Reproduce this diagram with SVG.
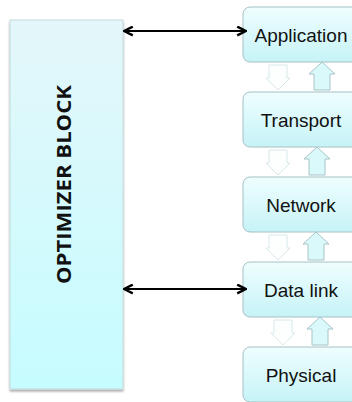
<svg xmlns="http://www.w3.org/2000/svg" width="352" height="402" viewBox="0 0 352 402">
<style>
.layer{fill:url(#gLayer);stroke:#a6c0c4;stroke-width:1}
.ltxt{font-family:"Liberation Sans",Arial,sans-serif;font-size:19px;fill:#111;text-anchor:middle}
.conn{stroke:#000;stroke-width:2;fill:none;marker-start:url(#ah);marker-end:url(#ah)}
.down{fill:#fdffff;stroke:#d8e8ea;stroke-width:1}
.up{fill:#daf9fb;stroke:#a8c4c8;stroke-width:1}
</style>
<defs>
<linearGradient id="gLayer" x1="0" y1="0" x2="0" y2="1">
<stop offset="0" stop-color="#effeff"/>
<stop offset="1" stop-color="#c6f3f7"/>
</linearGradient>
<linearGradient id="gOpt" x1="0" y1="0" x2="0" y2="1">
<stop offset="0" stop-color="#e4f7fa"/>
<stop offset="1" stop-color="#c6fcff"/>
</linearGradient>
<filter id="sh" x="-10%" y="-10%" width="120%" height="120%">
<feGaussianBlur in="SourceAlpha" stdDeviation="1"/>
<feOffset dx="0" dy="2" result="b"/>
<feComponentTransfer><feFuncA type="linear" slope="0.35"/></feComponentTransfer>
<feMerge><feMergeNode/><feMergeNode in="SourceGraphic"/></feMerge>
</filter>
<marker id="ah" viewBox="0 0 10 10" refX="9" refY="5" markerWidth="5.5" markerHeight="5.5" orient="auto-start-reverse" markerUnits="strokeWidth">
<path d="M1,1 L9,5 L1,9" fill="none" stroke="#000" stroke-width="2.2"/>
</marker>
<path id="dArrow" d="M-9,0 H9 V13 H12 L0,25 L-12,13 H-9 Z"/>
<path id="uArrow" d="M0,0 L13,12 H8 V28 H-8 V12 H-13 Z"/>
</defs>
<rect width="352" height="402" fill="#fff"/>

<g id="optimizer">
<rect x="10" y="20" width="113" height="369" fill="url(#gOpt)" stroke="#c3dbde" stroke-width="1" filter="url(#sh)"/>
<text transform="translate(71,184.5) rotate(-90)" font-family="'Open Sans','DejaVu Sans',sans-serif" font-weight="700" font-size="19" fill="#111" text-anchor="middle" textLength="199" lengthAdjust="spacingAndGlyphs">OPTIMIZER BLOCK</text>
</g>

<g id="application"><rect class="layer" x="243" y="7" width="116" height="55" rx="7"/><text class="ltxt" x="301" y="41.5">Application</text></g>
<g id="transport"><rect class="layer" x="243" y="92" width="116" height="55" rx="7"/><text class="ltxt" x="301" y="126.5">Transport</text></g>
<g id="network"><rect class="layer" x="243" y="177" width="116" height="55" rx="7"/><text class="ltxt" x="301" y="211.5">Network</text></g>
<g id="datalink"><rect class="layer" x="243" y="262" width="116" height="55" rx="7"/><text class="ltxt" x="301" y="296.5">Data link</text></g>
<g id="physical"><rect class="layer" x="243" y="347" width="116" height="55" rx="7"/><text class="ltxt" x="301" y="381.5">Physical</text></g>

<g id="connectors">
<line class="conn" x1="124" y1="31" x2="246" y2="31"/>
<line class="conn" x1="124" y1="289" x2="246" y2="289"/>
<use href="#dArrow" class="down" transform="translate(278,65)"/>
<use href="#uArrow" class="up" transform="translate(322,62)"/>
<use href="#dArrow" class="down" transform="translate(278,150)"/>
<use href="#uArrow" class="up" transform="translate(317,147)"/>
<use href="#dArrow" class="down" transform="translate(278,235)"/>
<use href="#uArrow" class="up" transform="translate(316,232)"/>
<use href="#dArrow" class="down" transform="translate(283,320)"/>
<use href="#uArrow" class="up" transform="translate(320,317)"/>
</g>
</svg>
